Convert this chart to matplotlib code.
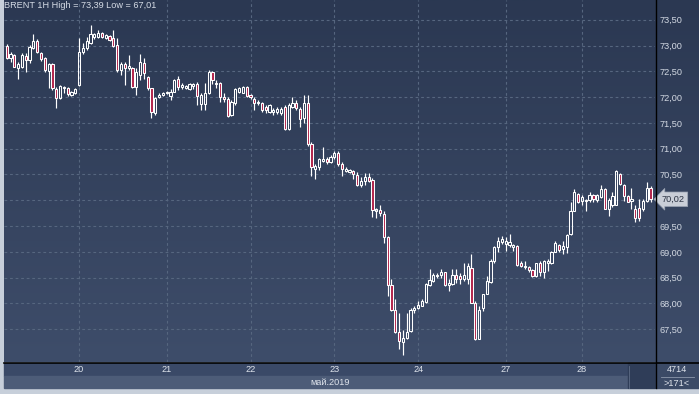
import numpy as np
import matplotlib
matplotlib.use("Agg")
import matplotlib.pyplot as plt
from matplotlib.colors import LinearSegmentedColormap
from matplotlib.patches import Rectangle
from matplotlib.ticker import FuncFormatter, MultipleLocator

# BRENT 1H candles, 17..28 May 2019
opens = [73.00, 72.75, 72.81, 72.57, 72.59, 72.79, 72.72, 72.96, 73.08, 72.85,
         72.75, 72.51, 72.64, 72.16, 71.99, 72.17, 72.18, 72.04, 72.07, 72.23,
         72.88, 72.95, 73.05, 73.16, 73.16, 73.24, 73.14, 73.18, 73.14, 73.01,
         72.53, 72.64, 72.57, 72.56, 72.20, 72.43, 72.66, 72.38, 72.17, 71.70,
         72.01, 72.04,
         72.07, 72.02, 72.10, 72.36, 72.20, 72.18, 72.15, 72.21, 72.25, 71.86,
         71.86, 72.07, 72.49, 72.25, 72.28, 72.01, 71.97, 71.65, 71.88, 72.10,
         72.08, 72.20, 72.04, 71.97, 71.88, 71.88, 71.81, 71.71, 71.71, 71.71,
         71.69, 71.81, 71.39, 71.81, 71.89, 71.76, 71.60, 71.88, 71.10, 70.61,
         70.64, 70.77, 70.81, 70.75,
         70.84, 70.92,
         70.70, 70.56, 70.55, 70.56, 70.49, 70.29, 70.38, 70.45, 70.40, 69.80,
         69.81, 69.73, 69.29, 68.35, 67.87, 67.44, 67.25, 67.33, 67.46, 67.87,
         67.92, 67.96, 68.03, 68.35, 68.44, 68.53, 68.56, 68.61, 68.36, 68.37,
         68.56, 68.53, 68.48, 68.48, 68.68, 68.00, 67.31, 67.92, 68.19, 68.42,
         68.82,
         69.10, 69.19, 69.15, 69.13, 69.10, 69.12, 68.78, 68.70, 68.71, 68.65,
         68.53, 68.78, 68.61, 68.79, 68.79, 69.00, 69.13, 69.05, 69.10, 69.34,
         69.80, 70.12, 69.99, 69.99, 70.01, 70.10, 70.01, 70.06, 70.21, 69.83,
         69.90, 69.91, 70.51, 70.30, 70.09, 69.99, 69.84, 69.86, 69.84, 69.99,
         70.23]
highs = [73.03, 72.88, 72.83, 72.69, 72.85, 72.85, 73.01, 73.22, 73.13, 72.88,
         72.77, 72.66, 72.66, 72.20, 72.23, 72.22, 72.20, 72.12, 72.17, 73.14,
         73.05, 73.16, 73.39, 73.24, 73.31, 73.26, 73.22, 73.21, 73.31, 73.14,
         72.69, 72.69, 72.82, 72.59, 72.56, 72.83, 72.75, 72.40, 72.18, 72.01,
         72.07, 72.10,
         72.12, 72.15, 72.36, 72.40, 72.27, 72.24, 72.27, 72.28, 72.30, 72.07,
         72.27, 72.53, 72.51, 72.33, 72.30, 72.07, 72.01, 71.95, 72.17, 72.20,
         72.21, 72.21, 72.06, 72.01, 71.94, 71.91, 71.84, 71.86, 71.78, 71.80,
         71.81, 71.84, 71.88, 72.01, 71.94, 71.81, 72.04, 72.04, 71.13, 70.71,
         70.82, 71.03, 70.84, 70.87,
         70.95, 70.95,
         70.75, 70.64, 70.61, 70.58, 70.55, 70.45, 70.53, 70.53, 70.43, 69.86,
         69.91, 69.80, 69.31, 68.47, 68.08, 67.82, 67.49, 67.82, 67.92, 67.95,
         68.05, 68.09, 68.40, 68.66, 68.60, 68.60, 68.66, 68.62, 68.47, 68.66,
         68.66, 68.60, 68.79, 68.79, 68.95, 68.05, 67.95, 68.19, 68.53, 68.86,
         69.12,
         69.28, 69.31, 69.28, 69.34, 69.15, 69.13, 68.82, 68.82, 68.73, 68.66,
         68.79, 68.82, 68.84, 68.86, 69.02, 69.21, 69.15, 69.21, 69.34, 69.96,
         70.21, 70.14, 70.10, 70.03, 70.17, 70.12, 70.12, 70.29, 70.23, 70.04,
         70.16, 70.58, 70.53, 70.32, 70.10, 70.23, 69.91, 70.03, 70.03, 70.35,
         70.27]
lows = [72.74, 72.69, 72.58, 72.36, 72.56, 72.49, 72.66, 72.94, 72.85, 72.70,
        72.49, 72.17, 72.14, 71.78, 71.97, 72.07, 72.03, 72.03, 72.06, 72.22,
        72.83, 72.92, 73.03, 73.13, 73.14, 73.14, 73.13, 73.08, 72.98, 72.49,
        72.43, 72.23, 72.53, 72.17, 72.04, 72.33, 72.36, 72.14, 71.60, 71.65,
        71.99, 72.03,
        72.06, 71.95, 72.10, 72.14, 72.15, 72.15, 72.14, 72.16, 71.84, 71.75,
        71.75, 72.06, 72.25, 72.17, 71.91, 71.91, 71.62, 71.63, 71.84, 72.07,
        72.07, 72.01, 71.97, 71.75, 71.84, 71.71, 71.69, 71.69, 71.65, 71.68,
        71.65, 71.36, 71.36, 71.78, 71.75, 71.42, 71.49, 71.06, 70.48, 70.42,
        70.58, 70.74, 70.71, 70.72,
        70.80, 70.66,
        70.48, 70.55, 70.53, 70.42, 70.27, 70.25, 70.30, 70.36, 69.67, 69.65,
        69.70, 69.17, 68.14, 67.85, 67.43, 67.12, 67.01, 67.31, 67.45, 67.82,
        67.90, 67.95, 68.01, 68.34, 68.42, 68.50, 68.50, 68.34, 68.24, 68.35,
        68.40, 68.37, 68.44, 68.37, 68.00, 67.30, 67.31, 67.85, 68.18, 68.40,
        68.79,
        69.00, 69.15, 69.02, 69.10, 69.02, 68.73, 68.70, 68.66, 68.61, 68.52,
        68.52, 68.53, 68.50, 68.63, 68.76, 68.99, 68.99, 68.95, 68.97, 69.33,
        69.79, 69.95, 69.90, 69.80, 69.97, 69.97, 69.97, 70.04, 69.83, 69.69,
        69.87, 69.90, 70.30, 69.99, 69.96, 69.83, 69.57, 69.60, 69.80, 69.97,
        69.97]
closes = [72.75, 72.83, 72.59, 72.64, 72.81, 72.72, 72.98, 73.09, 72.88, 72.74,
          72.53, 72.64, 72.17, 71.99, 72.21, 72.19, 72.06, 72.10, 72.15, 72.88,
          72.96, 73.08, 73.22, 73.22, 73.24, 73.16, 73.21, 73.11, 73.00, 72.53,
          72.64, 72.57, 72.61, 72.20, 72.49, 72.69, 72.46, 72.17, 71.71, 71.99,
          72.04, 72.07,
          72.09, 72.10, 72.34, 72.20, 72.23, 72.21, 72.25, 72.25, 72.02, 72.04,
          72.07, 72.49, 72.34, 72.28, 72.01, 71.97, 71.63, 71.91, 72.15, 72.17,
          72.20, 72.02, 72.01, 71.88, 71.91, 71.75, 71.75, 71.84, 71.75, 71.76,
          71.77, 71.39, 71.84, 71.89, 71.78, 71.58, 71.88, 71.10, 70.64, 70.66,
          70.81, 70.81, 70.74, 70.84,
          70.92, 70.70,
          70.61, 70.60, 70.58, 70.51, 70.30, 70.38, 70.45, 70.38, 69.82, 69.82,
          69.75, 69.29, 68.35, 67.87, 67.44, 67.27, 67.33, 67.44, 67.88, 67.92,
          67.98, 68.05, 68.37, 68.45, 68.56, 68.56, 68.61, 68.35, 68.40, 68.56,
          68.47, 68.47, 68.56, 68.73, 68.00, 67.31, 67.87, 68.18, 68.44, 68.82,
          69.10,
          69.21, 69.25, 69.21, 69.19, 69.13, 68.74, 68.73, 68.73, 68.65, 68.53,
          68.78, 68.61, 68.82, 68.83, 69.00, 69.17, 69.04, 69.12, 69.32, 69.80,
          70.16, 69.97, 70.06, 70.01, 70.10, 70.03, 70.10, 70.22, 69.84, 70.01,
          70.08, 70.56, 70.32, 70.09, 69.97, 70.03, 69.65, 69.65, 69.99, 70.23,
          70.02]

day_labels = ["20", "21", "22", "23", "24", "27", "28"]
day_start = [19, 42, 64, 86, 108, 131, 151]
price_ticks = [67.5, 68.0, 68.5, 69.0, 69.5, 70.0, 70.5, 71.0, 71.5, 72.0, 72.5, 73.0, 73.5]
month_label = "май.2019"
title = "BRENT 1H High = 73,39 Low = 67,01"
bars_total = "4714"
bars_shown = ">171<"

o = np.array(opens); h = np.array(highs); l = np.array(lows); c = np.array(closes)
idx = np.arange(len(o))

W, H = 699, 394
plt.rcParams['font.family'] = ['Liberation Sans', 'DejaVu Sans']


def fbox(x0, y0, x1, y1):
    return [x0 / W, 1 - y1 / H, (x1 - x0) / W, (y1 - y0) / H]


def price_fmt(v, pos):
    # label under the last-price marker is hidden, like the terminal does
    if abs(v - c[-1]) < 0.15:
        return ""
    return f"{v:.2f}".replace('.', ',')


fig = plt.figure(figsize=(W / 100, H / 100), dpi=100)
fig.patch.set_facecolor('#c7cfda')

# gradient background behind plot + price scale
bg = fig.add_axes(fbox(4, 0, 699, 362), zorder=0)
cmap = LinearSegmentedColormap.from_list('bg', ['#2b3852', '#3e4d6a'])
bg.imshow(np.linspace(0, 1, 256).reshape(-1, 1), aspect='auto', cmap=cmap,
          extent=(0, 1, 0, 1))
bg.axis('off')

ax = fig.add_axes(fbox(4, 0, 655, 362), zorder=1)
ax.set_facecolor('none')
ax.set_xlim(-0.71, 170.17)
ax.set_ylim(66.866, 73.882)
for s in ax.spines.values():
    s.set_visible(False)

ax.set_yticks(price_ticks)
ax.set_xticks(day_start)
ax.grid(True, color='#56667f', lw=0.8, dashes=(2.5, 2.5))
ax.set_axisbelow(True)
ax.tick_params(axis='x', length=0, labelbottom=False)
ax.yaxis.tick_right()
ax.tick_params(axis='y', length=0, pad=3.5, labelsize=6.6, labelcolor='#d3d9e3')
ax.yaxis.set_major_formatter(FuncFormatter(price_fmt))

# candles
body_lo = np.minimum(o, c)
body_hi = np.maximum(o, c)
ax.vlines(idx, l, body_lo, color='white', lw=0.85, zorder=2)
ax.vlines(idx, body_hi, h, color='white', lw=0.85, zorder=2)
up = c >= o
fills = ['none' if u else '#b3254c' for u in up]
ax.bar(idx, np.maximum(body_hi - body_lo, 0.025), bottom=body_lo, width=0.58,
       color=fills, edgecolor='white', linewidth=0.75, zorder=3)

ax.text(0.0, 0.997, title, transform=ax.transAxes, ha='left', va='top',
        fontsize=6.6, color='#d5dbe5')

# last price marker
ax.annotate(f"{c[-1]:.2f}".replace('.', ','), xy=(1, c[-1]),
            xycoords=('axes fraction', 'data'), xytext=(5, 0),
            textcoords='offset points', ha='left', va='center', fontsize=6.6,
            color='#2a3242', zorder=10, annotation_clip=False,
            bbox=dict(boxstyle='larrow,pad=0.3', fc='#c9ced7', ec='#9aa3b2', lw=0.5))

# frame / bottom bands
ov = fig.add_axes([0, 0, 1, 1], zorder=2)
ov.set_xlim(0, W)
ov.set_ylim(H, 0)
ov.axis('off')
ov.add_patch(Rectangle((4, 363), 651, 13, color='#3a4967'))
ov.add_patch(Rectangle((4, 376), 624, 12, color='#4d5c78'))
ov.add_patch(Rectangle((628, 363), 27, 25, color='#2f3d58'))
ov.plot([628.5, 628.5], [366, 388], color='#5d6b85', lw=0.6)
ov.add_patch(Rectangle((656, 362), 43, 26, color='#3b4a66'))
ov.plot([655.5, 655.5], [0, 388], color='black', lw=1.0)
ov.plot([4, 699], [362.5, 362.5], color='black', lw=1.2)
ov.plot([661, 694], [376.5, 376.5], color='#8c97ab', lw=0.6)
ov.text(677, 370, bars_total, ha='center', va='center', fontsize=6.6, color='#dfe4ec')
ov.text(677, 383, bars_shown, ha='center', va='center', fontsize=6.6, color='#dfe4ec')
ov.text(330, 382.5, month_label, ha='center', va='center', fontsize=6.6, color='#dfe4ec')

band = fig.add_axes(fbox(4, 363, 655, 376), zorder=3)
band.set_xlim(ax.get_xlim())
band.set_ylim(0, 1)
band.axis('off')
for d, lab in zip(day_start, day_labels):
    band.text(d, 0.5, lab, ha='center', va='center', fontsize=6.6, color='#dfe4ec')

fig.savefig('out.png', dpi=100, facecolor=fig.get_facecolor())
